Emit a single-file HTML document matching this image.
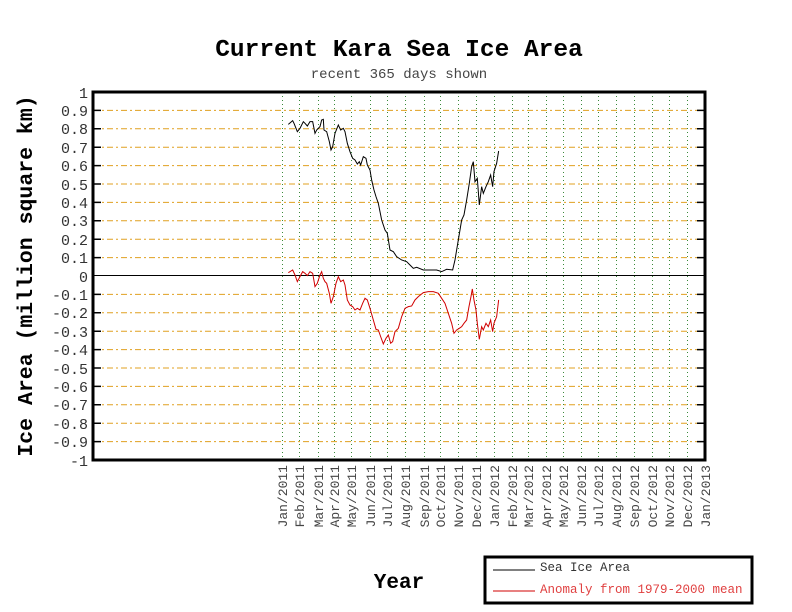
<!DOCTYPE html>
<html><head><style>body{margin:0;background:#fff}svg{display:block}</style></head><body>
<svg width="792" height="612" xmlns="http://www.w3.org/2000/svg" font-family="Liberation Mono, monospace">
<rect width="792" height="612" fill="#fff"/>
<text x="399" y="56" text-anchor="middle" font-size="24.5" font-weight="bold">Current Kara Sea Ice Area</text>
<text x="399" y="78" text-anchor="middle" font-size="14" fill="#444">recent 365 days shown</text>
<g id="grid">
<g stroke="#e0a020" stroke-width="1" stroke-dasharray="6,3,2,3">
<line x1="93" x2="705" y1="110.4" y2="110.4"/><line x1="93" x2="705" y1="128.8" y2="128.8"/><line x1="93" x2="705" y1="147.2" y2="147.2"/><line x1="93" x2="705" y1="165.6" y2="165.6"/><line x1="93" x2="705" y1="184" y2="184"/><line x1="93" x2="705" y1="202.4" y2="202.4"/><line x1="93" x2="705" y1="220.8" y2="220.8"/><line x1="93" x2="705" y1="239.2" y2="239.2"/><line x1="93" x2="705" y1="257.6" y2="257.6"/>
<line x1="93" x2="705" y1="294.4" y2="294.4"/><line x1="93" x2="705" y1="312.8" y2="312.8"/><line x1="93" x2="705" y1="331.2" y2="331.2"/><line x1="93" x2="705" y1="349.6" y2="349.6"/><line x1="93" x2="705" y1="368" y2="368"/><line x1="93" x2="705" y1="386.4" y2="386.4"/><line x1="93" x2="705" y1="404.8" y2="404.8"/><line x1="93" x2="705" y1="423.2" y2="423.2"/><line x1="93" x2="705" y1="441.6" y2="441.6"/>
</g>
<g stroke="#3a8a3a" stroke-width="1" stroke-dasharray="1,3">
<line y1="92" y2="460" x1="282.5" x2="282.5"/><line y1="92" y2="460" x1="299.5" x2="299.5"/><line y1="92" y2="460" x1="318.5" x2="318.5"/><line y1="92" y2="460" x1="334.5" x2="334.5"/><line y1="92" y2="460" x1="351.5" x2="351.5"/><line y1="92" y2="460" x1="370.5" x2="370.5"/><line y1="92" y2="460" x1="387.5" x2="387.5"/><line y1="92" y2="460" x1="405.5" x2="405.5"/><line y1="92" y2="460" x1="424.5" x2="424.5"/><line y1="92" y2="460" x1="440.5" x2="440.5"/><line y1="92" y2="460" x1="458.5" x2="458.5"/><line y1="92" y2="460" x1="476.5" x2="476.5"/><line y1="92" y2="460" x1="494.5" x2="494.5"/><line y1="92" y2="460" x1="512.5" x2="512.5"/><line y1="92" y2="460" x1="528.5" x2="528.5"/><line y1="92" y2="460" x1="546.5" x2="546.5"/><line y1="92" y2="460" x1="563.5" x2="563.5"/><line y1="92" y2="460" x1="581.5" x2="581.5"/><line y1="92" y2="460" x1="598.5" x2="598.5"/><line y1="92" y2="460" x1="616.5" x2="616.5"/><line y1="92" y2="460" x1="634.5" x2="634.5"/><line y1="92" y2="460" x1="652.5" x2="652.5"/><line y1="92" y2="460" x1="669.5" x2="669.5"/><line y1="92" y2="460" x1="687.5" x2="687.5"/>
</g>
</g>
<g stroke="#000" stroke-width="1.5">
<path d="M93 110.4h8M93 128.8h8M93 147.2h8M93 165.6h8M93 184h8M93 202.4h8M93 220.8h8M93 239.2h8M93 257.6h8M93 294.4h8M93 312.8h8M93 331.2h8M93 349.6h8M93 368h8M93 386.4h8M93 404.8h8M93 423.2h8M93 441.6h8"/>
<path d="M705 110.4h-8M705 128.8h-8M705 147.2h-8M705 165.6h-8M705 184h-8M705 202.4h-8M705 220.8h-8M705 239.2h-8M705 257.6h-8M705 294.4h-8M705 312.8h-8M705 331.2h-8M705 349.6h-8M705 368h-8M705 386.4h-8M705 404.8h-8M705 423.2h-8M705 441.6h-8"/>
</g>
<line x1="93" x2="705" y1="275.5" y2="275.5" stroke="#000" stroke-width="1"/>
<g transform="translate(270,90) scale(0.3333)" fill="none">
<polyline vector-effect="non-scaling-stroke" stroke="#000" points="55,103 68,92 72,100 82,125 90,115 100,95 105,100 112,108 120,95 128,95 135,130 140,120 150,110 155,90 160,88 162,120 170,125 178,155 183,180 188,170 195,130 205,105 212,120 220,115 225,125 232,160 240,185 248,205 255,210 262,222 268,215 272,225 280,200 288,205 292,225 300,240 305,270 312,300 318,320 325,340 335,390 345,420 352,430 360,480 370,485 380,500 395,510 410,515 420,525 430,535 440,532 460,540 480,540 500,540 515,545 530,538 548,540 555,510 565,450 575,390 582,375 590,330 598,280 605,230 610,215 615,275 622,265 628,345 635,290 640,310 648,290 655,275 662,255 668,290 672,245 680,220 686,183"/>
<polyline vector-effect="non-scaling-stroke" stroke="#d00000" points="55,548 68,540 75,555 82,575 90,560 98,545 105,550 112,557 120,545 128,550 135,590 142,580 150,555 155,545 160,565 165,575 170,580 178,610 183,640 190,620 198,580 205,560 212,575 220,570 225,585 232,630 240,645 248,650 255,660 262,655 270,660 278,640 285,625 292,630 300,655 310,690 318,718 325,720 332,740 340,762 348,745 355,735 362,760 368,755 375,725 385,715 395,680 405,655 415,650 425,648 435,630 445,620 460,608 475,605 490,605 505,610 515,625 525,640 535,670 545,700 552,730 560,720 568,715 575,710 582,700 590,690 597,650 603,620 607,597 612,630 618,660 622,700 628,748 635,710 640,720 648,700 655,710 662,690 668,725 672,700 680,680 686,630"/>
</g>
<rect x="93" y="92" width="612" height="368" fill="none" stroke="#000" stroke-width="3"/>
<g font-size="15" text-anchor="end" fill="#333">
<text x="88" y="98">1</text><text x="88" y="116">0.9</text><text x="88" y="134">0.8</text><text x="88" y="153">0.7</text><text x="88" y="171">0.6</text><text x="88" y="190">0.5</text><text x="88" y="208">0.4</text><text x="88" y="226">0.3</text><text x="88" y="245">0.2</text><text x="88" y="263">0.1</text><text x="88" y="282">0</text><text x="88" y="300">-0.1</text><text x="88" y="318">-0.2</text><text x="88" y="337">-0.3</text><text x="88" y="355">-0.4</text><text x="88" y="374">-0.5</text><text x="88" y="392">-0.6</text><text x="88" y="410">-0.7</text><text x="88" y="429">-0.8</text><text x="88" y="447">-0.9</text><text x="88" y="466">-1</text>
</g>
<text transform="translate(32,276) rotate(-90)" text-anchor="middle" font-size="21.5" font-weight="bold">Ice Area (million square km)</text>
<g font-size="13" fill="#444" text-anchor="end">
<text transform="translate(287,465) rotate(-90)">Jan/2011</text><text transform="translate(304,465) rotate(-90)">Feb/2011</text><text transform="translate(323,465) rotate(-90)">Mar/2011</text><text transform="translate(339,465) rotate(-90)">Apr/2011</text><text transform="translate(356,465) rotate(-90)">May/2011</text><text transform="translate(375,465) rotate(-90)">Jun/2011</text><text transform="translate(392,465) rotate(-90)">Jul/2011</text><text transform="translate(410,465) rotate(-90)">Aug/2011</text><text transform="translate(429,465) rotate(-90)">Sep/2011</text><text transform="translate(445,465) rotate(-90)">Oct/2011</text><text transform="translate(463,465) rotate(-90)">Nov/2011</text><text transform="translate(481,465) rotate(-90)">Dec/2011</text><text transform="translate(499,465) rotate(-90)">Jan/2012</text><text transform="translate(517,465) rotate(-90)">Feb/2012</text><text transform="translate(533,465) rotate(-90)">Mar/2012</text><text transform="translate(551,465) rotate(-90)">Apr/2012</text><text transform="translate(568,465) rotate(-90)">May/2012</text><text transform="translate(586,465) rotate(-90)">Jun/2012</text><text transform="translate(603,465) rotate(-90)">Jul/2012</text><text transform="translate(621,465) rotate(-90)">Aug/2012</text><text transform="translate(639,465) rotate(-90)">Sep/2012</text><text transform="translate(657,465) rotate(-90)">Oct/2012</text><text transform="translate(674,465) rotate(-90)">Nov/2012</text><text transform="translate(692,465) rotate(-90)">Dec/2012</text><text transform="translate(710,465) rotate(-90)">Jan/2013</text>
</g>
<text x="399" y="588" text-anchor="middle" font-size="21" font-weight="bold">Year</text>
<rect x="485" y="557" width="267" height="46" fill="#fff" stroke="#000" stroke-width="3"/>
<line x1="493" x2="535" y1="570" y2="570" stroke="#000"/>
<text x="540" y="571" font-size="12.5" fill="#333">Sea Ice Area</text>
<line x1="493" x2="535" y1="591" y2="591" stroke="#d00000"/>
<text x="540" y="593" font-size="12.5" fill="#e04040">Anomaly from 1979-2000 mean</text>
</svg>
</body></html>
